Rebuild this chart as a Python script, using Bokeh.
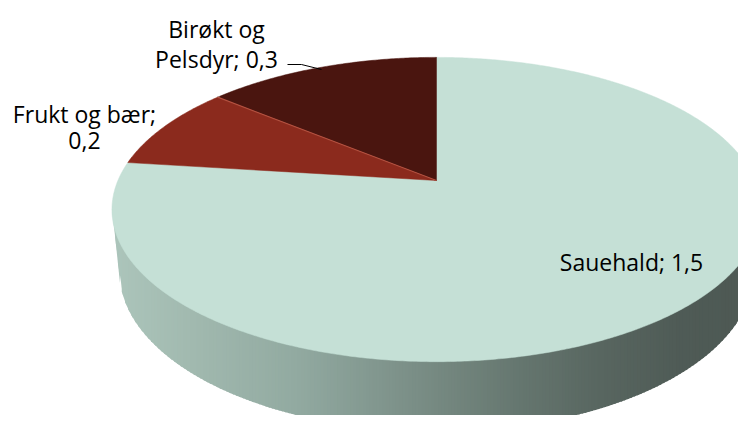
import numpy as np
from bokeh.plotting import figure
from bokeh.models import Range1d
from bokeh.core.properties import value
from bokeh.embed import file_html
from bokeh.resources import INLINE

# ---- data ----
categories = ["Sauehald", "Frukt og bær", "Birøkt og Pelsdyr"]
values = [1.54, 0.18, 0.28]
colors = ["#C5E0D6", "#8B2A1D", "#4A150F"]
# words on first label line (None = one line)
first_line_words = [None, 3, 2]
# label anchor (center x, first baseline y, line step) in pixel coords
label_pos = [(631, 261, 0), (84, 113, 27), (216, 28, 30)]

# ---- 3D pie projection (perspective) ----
F, DIST, ALPHA, H = 1483.0, 4.655, np.radians(27.4), 0.219
CX, CY = 436.0, 180.0


def proj(theta_deg, z):
    t = np.radians(np.asarray(theta_deg, dtype=float))
    X = np.sin(t)
    Y = np.cos(t)
    depth = DIST + Y * np.cos(ALPHA) - z * np.sin(ALPHA)
    x = CX + F * X / depth
    y = CY - F * (Y * np.sin(ALPHA) + z * np.cos(ALPHA)) / depth
    return x, y


p = figure(width=738, height=415, x_range=Range1d(0, 738), y_range=Range1d(415, 0),
           output_backend="svg", toolbar_location=None, min_border=0,
           x_axis_type=None, y_axis_type=None)
p.grid.visible = False
p.outline_line_color = None
p.background_fill_color = "white"
p.border_fill_color = "white"

# ---- side (front wall) with horizontal gradient ----
th = np.linspace(90, 270, 1441)
tx, ty = proj(th, 0.0)
bx, by = proj(th, -H)
iR, iL = np.argmax(tx), np.argmin(tx)
jR, jL = np.argmax(bx), np.argmin(bx)
top_x, top_y = tx[iR:iL + 1][::-1], ty[iR:iL + 1][::-1]
bot_x, bot_y = bx[jR:jL + 1][::-1], by[jR:jL + 1][::-1]
tLx, tLy, tRx, tRy = tx[iL], ty[iL], tx[iR], ty[iR]
bLx, bLy, bRx, bRy = bx[jL], by[jL], bx[jR], by[jR]

stops_x = [112, 200, 300, 380, 450, 520, 600, 680, 760]
stops_c = [(172, 197, 187), (160, 184, 174), (145, 169, 160), (129, 150, 142),
           (115, 134, 126), (101, 118, 111), (88, 102, 96), (79, 91, 86), (77, 88, 83)]


def grad(x):
    r = np.interp(x, stops_x, [c[0] for c in stops_c])
    g = np.interp(x, stops_x, [c[1] for c in stops_c])
    b = np.interp(x, stops_x, [c[2] for c in stops_c])
    return "#%02x%02x%02x" % (int(round(r)), int(round(g)), int(round(b)))


def upper(x):
    return np.interp(x, top_x, top_y)


def lower(x):
    if x < bLx:
        return tLy + (x - tLx) / (bLx - tLx) * (bLy - tLy)
    if x > bRx:
        return tRy + (x - tRx) / (bRx - tRx) * (bRy - tRy)
    return np.interp(x, bot_x, bot_y)


xs_grid = np.linspace(min(tLx, bLx), max(tRx, bRx), 200)
sx, sy, sc = [], [], []
last = xs_grid[-1]
for a, b in zip(xs_grid[:-1], xs_grid[1:]):
    b2 = min(b + 1.5, last)
    sx.append([a, b2, b2, a])
    sy.append([upper(a) - 1, upper(b2) - 1, lower(b2), lower(a)])
    sc.append(grad((a + b) / 2))
p.patches(sx, sy, fill_color=sc, line_color=None)

# ---- top slices ----
total = sum(values)
start = 0.0
bounds = []
for v, c in zip(values, colors):
    end = start + 360.0 * v / total
    arc = np.linspace(start, end, max(4, int((end - start) * 2)))
    ax, ay = proj(arc, 0.0)
    p.patch(np.concatenate([[CX], ax]), np.concatenate([[CY], ay]),
            fill_color=c, line_color=c, line_width=0.5)
    bounds.append(end)
    start = end

# light edge between Frukt and Birøkt
ex, ey = proj(bounds[1], 0.0)
p.line([CX, float(ex)], [CY, float(ey)], line_color="#B5503F", line_width=1.2)

# ---- labels ----
for cat, v, nw, (lx, ly, step) in zip(categories, values, first_line_words, label_pos):
    txt = f"{cat}; {v:.1f}".replace(".", ",")
    words = txt.split(" ")
    lines = [txt] if nw is None else [" ".join(words[:nw]), " ".join(words[nw:])]
    for i, ln in enumerate(lines):
        p.text(x=[lx], y=[ly + i * step], text=[ln], text_align="center",
               text_baseline="alphabetic", text_font=value("Open Sans"),
               text_font_size="23px", text_color="#000000")

# leader line for Birøkt label
p.line([287, 301, 321], [64, 64, 69], line_color="black", line_width=1)

open("out.html", "w").write(file_html(p, INLINE))
